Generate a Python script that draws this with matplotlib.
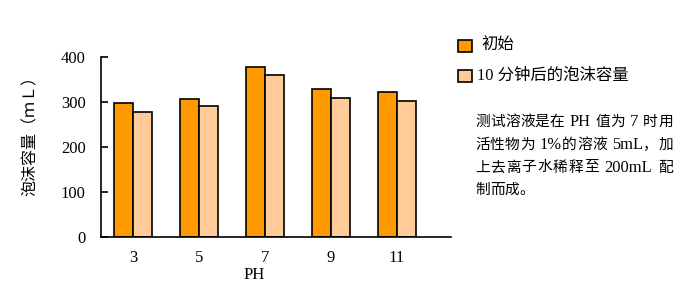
import numpy as np
import matplotlib
matplotlib.use("Agg")
from matplotlib import pyplot as plt
from matplotlib.patches import Rectangle

plt.rcParams['font.family'] = ['Liberation Serif', 'Noto Sans CJK SC']

# datos
ph = ["3", "5", "7", "9", "11"]
inicial = [298, 308, 378, 330, 322]
despues = [278, 291, 360, 309, 302]
serie_nombres = ["初始", "10 分钟后的泡沫容量"]
nota = ["测试溶液是在 PH 值为 7 时用",
        "活性物为 1%的溶液 5mL，加",
        "上去离子水稀释至 200mL 配",
        "制而成。"]

c1 = "#FF9900"
c2 = "#FFCC99"

fig = plt.figure(figsize=(6.93, 2.96), dpi=100)
W, H = 693, 296
ax = fig.add_axes([101/W, (H-237.3)/H, 350/W, 180/H])

x = np.arange(len(ph))
w = 0.29
ax.bar(x - w/2, inicial, w, color=c1, edgecolor="black", linewidth=1.2)
ax.bar(x + w/2, despues, w, color=c2, edgecolor="black", linewidth=1.2)

ax.set_xlim(-0.485, 4.82)
ax.set_ylim(0, 400)
ax.set_yticks([0, 100, 200, 300, 400])
ax.set_xticks(x)
ax.set_xticklabels(ph)
ax.tick_params(axis="y", direction="in", length=5, width=1.2, labelsize=12, pad=11)
ax.tick_params(axis="x", length=0, labelsize=12, pad=9)
for s in ["top", "right"]:
    ax.spines[s].set_visible(False)
ax.spines["left"].set_linewidth(1.2)
ax.spines["bottom"].set_linewidth(1.2)

fig.text(30/W, 1 - 132/H, "泡沫容量（ｍＬ）", rotation=90, ha="center", va="center",
         fontsize=11.5, family=['Noto Sans CJK SC', 'DejaVu Sans'])
fig.text(254/W, 1 - 275/H, "PH", ha="center", va="center", fontsize=12)

# leyenda
for i, (nombre, c) in enumerate(zip(serie_nombres, [c1, c2])):
    yc = 46 + i*30
    fig.patches.append(Rectangle((458/W, 1 - (yc+6)/H), 14/W, 12/H, transform=fig.transFigure,
                                 facecolor=c, edgecolor="black", linewidth=1.2))
    fig.text((481 if i == 0 else 477)/W, 1 - yc/H, nombre, ha="left", va="center", fontsize=11.8)

# nota justificada (como en el original)
fs = 10.6
renderer = fig.canvas.get_renderer()


def trozos(linea):
    # caracteres CJK sueltos, palabras ascii juntas, espacios aparte
    res = []
    for ch in linea:
        if ch != " " and ord(ch) < 128 and res and res[-1] != " " and ord(res[-1][-1]) < 128:
            res[-1] += ch
        else:
            res.append(ch)
    return res


def tam(t):
    return fs*1.12 if ord(t[0]) < 128 else fs


for i, linea in enumerate(nota):
    yc = 1 - (122.5 + i*22.7)/H
    tk = trozos(linea)
    anchos = []
    for t in tk:
        if t == " ":
            anchos.append(0.3*fs*100/72)
        else:
            tt = fig.text(0, 0, t, fontsize=tam(t))
            anchos.append(tt.get_window_extent(renderer).width)
            tt.remove()
    extra = (198 - sum(anchos))/(len(tk) - 1) if i < len(nota) - 1 else 0
    xp = 475
    for t, a in zip(tk, anchos):
        if t != " ":
            fig.text(xp/W, yc, t, ha="left", va="center", fontsize=tam(t))
        xp += a + extra

fig.savefig("out.png", dpi=100)
